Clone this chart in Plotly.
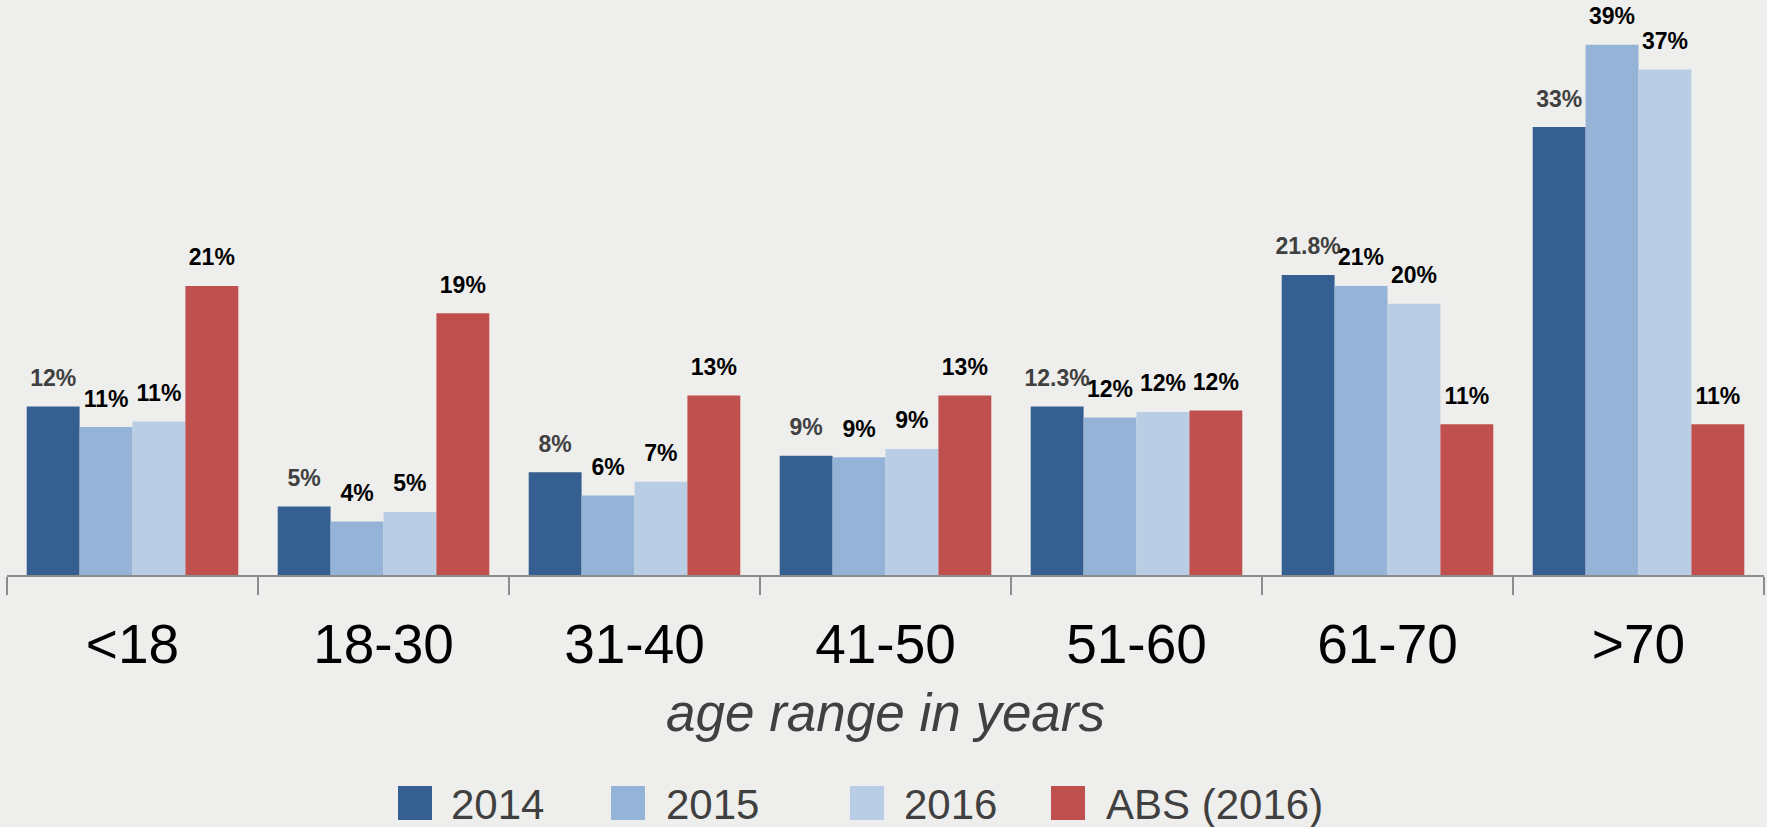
import plotly.graph_objects as go

categories = ["<18", "18-30", "31-40", "41-50", "51-60", "61-70", ">70"]
series_names = ["2014", "2015", "2016", "ABS (2016)"]

values_2014 = [12.3, 5.0, 7.5, 8.7, 12.3, 21.9, 32.7]
values_2015 = [10.8, 3.9, 5.8, 8.6, 11.5, 21.1, 38.7]
values_2016 = [11.2, 4.6, 6.8, 9.2, 11.9, 19.8, 36.9]
values_abs = [21.1, 19.1, 13.1, 13.1, 12.0, 11.0, 11.0]

labels_2014 = ["12%", "5%", "8%", "9%", "12.3%", "21.8%", "33%"]
labels_2015 = ["11%", "4%", "6%", "9%", "12%", "21%", "39%"]
labels_2016 = ["11%", "5%", "7%", "9%", "12%", "20%", "37%"]
labels_abs = ["21%", "19%", "13%", "13%", "12%", "11%", "11%"]

colors = ["#365F91", "#95B3D7", "#B9CDE5", "#C0504D"]
label_colors = ["#404040", "#000000", "#000000", "#000000"]

FONT = "Liberation Sans, Arial, sans-serif"
BG = "#EEEEEC"

values = [values_2014, values_2015, values_2016, values_abs]
labels = [labels_2014, labels_2015, labels_2016, labels_abs]

fig = go.Figure()
for name, vals, col in zip(series_names, values, colors):
    fig.add_bar(x=categories, y=vals, name=name, marker_color=col,
                marker_line_width=0, showlegend=False)

for name, vals, labs, lc in zip(series_names, values, labels, label_colors):
    fig.add_scatter(x=categories, y=vals, mode="markers+text", text=labs,
                    textposition="top center",
                    marker=dict(size=22, opacity=0, color=BG),
                    textfont=dict(family=FONT, size=23, color=lc, weight="bold"),
                    cliponaxis=False, showlegend=False, hoverinfo="skip", name=name)

# manual legend (large square swatches)
legend_swatch_x = [398, 611, 850, 1051]
legend_text_x = [449, 664, 902, 1104]
W, H = 1767, 827
L, R, T, B = 7, 3, 10, 252
pw, ph = W - L - R, H - T - B

def px_to_paper_x(px):
    return (px - L) / pw

def px_to_paper_y(py):
    return (H - B - py) / ph

shapes = []
annotations = []
for name, col, sx, tx in zip(series_names, colors, legend_swatch_x, legend_text_x):
    shapes.append(dict(type="rect", xref="paper", yref="paper",
                       x0=px_to_paper_x(sx), x1=px_to_paper_x(sx + 34),
                       y0=px_to_paper_y(786), y1=px_to_paper_y(820),
                       fillcolor=col, line=dict(width=0)))
    annotations.append(dict(xref="paper", yref="paper", x=px_to_paper_x(tx),
                            y=px_to_paper_y(804), xanchor="left", yanchor="middle",
                            text=name, showarrow=False,
                            font=dict(family=FONT, size=42, color="#404040")))

fig.update_layout(
    width=W, height=H,
    margin=dict(l=L, r=R, t=T, b=B),
    paper_bgcolor=BG, plot_bgcolor=BG,
    barmode="group", bargap=0.157, bargroupgap=0,
    scattermode="group", scattergap=0.157,
    shapes=shapes, annotations=annotations,
    showlegend=False,
    font=dict(family=FONT),
    xaxis=dict(
        type="category", automargin=False,
        tickson="boundaries", ticks="outside", ticklen=18, tickwidth=2,
        tickcolor="#8C8C8C", showline=True, linewidth=2, linecolor="#8C8C8C",
        tickfont=dict(family=FONT, size=55, color="#000000"),
        ticklabelstandoff=20,
        showgrid=False, zeroline=False,
        title=dict(text="age range in years", standoff=20,
                   font=dict(family=FONT, size=53, color="#404040", style="italic")),
    ),
    yaxis=dict(visible=False, range=[0, 41.24], showgrid=False, zeroline=False,
               automargin=False),
)

fig.write_html("out.html",
               config={"displayModeBar": False},
               post_script="document.body.style.margin='0px';document.body.style.overflow='hidden';")
